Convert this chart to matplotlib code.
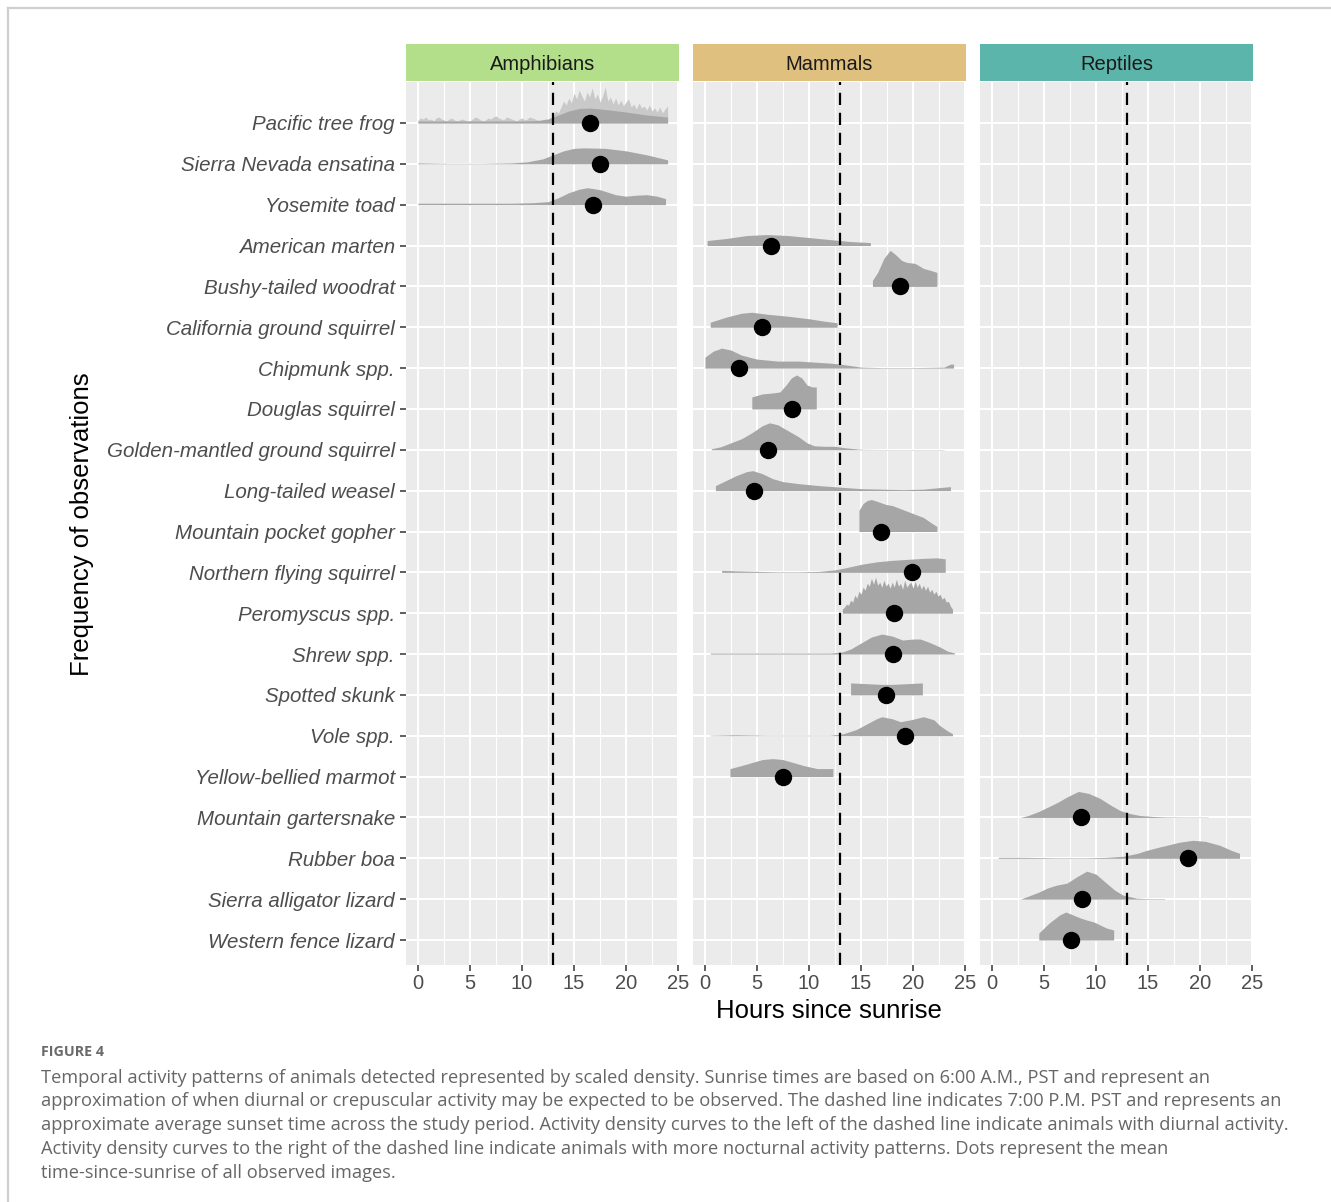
import numpy as np
import matplotlib
matplotlib.use("Agg")
import matplotlib.pyplot as plt
from matplotlib.lines import Line2D

# ---------------- data ----------------
groups = ["Amphibians", "Mammals", "Reptiles"]
group_colors = ["#b3df8a", "#dfc07f", "#5cb5aa"]

species = [
    "Pacific tree frog", "Sierra Nevada ensatina", "Yosemite toad",
    "American marten", "Bushy-tailed woodrat", "California ground squirrel",
    "Chipmunk spp.", "Douglas squirrel", "Golden-mantled ground squirrel",
    "Long-tailed weasel", "Mountain pocket gopher", "Northern flying squirrel",
    "Peromyscus spp.", "Shrew spp.", "Spotted skunk", "Vole spp.",
    "Yellow-bellied marmot", "Mountain gartersnake", "Rubber boa",
    "Sierra alligator lizard", "Western fence lizard",
]
species_group = [0, 0, 0] + [1] * 14 + [2] * 4

# mean hours since sunrise (dots)
mean_hours = [16.5, 17.5, 16.8, 6.3, 18.75, 5.5, 3.3, 8.4, 6.1, 4.7, 16.9,
              19.9, 18.2, 18.1, 17.4, 19.2, 7.5, 8.6, 18.8, 8.7, 7.6]

# scaled density profiles: hours and relative height
dens_hours = {
    "Pacific tree frog": [0, 2, 5, 8, 10, 11.5, 12.5, 13.5, 14.5, 15.5, 16.5, 18, 20, 22, 24],
    "Sierra Nevada ensatina": [0, 3, 6, 9, 10.5, 12, 13, 14, 15, 16, 18, 20, 22, 24],
    "Yosemite toad": [0, 3, 6, 9, 11, 12.5, 13.5, 14.5, 15.5, 16.3, 17.5, 19, 20, 21, 22, 23, 23.8],
    "American marten": [0.2, 2, 4, 6, 8, 10, 12, 14, 15.9],
    "Bushy-tailed woodrat": [16.1, 16.6, 17.2, 17.8, 18.3, 18.9, 19.4, 20.2, 21, 21.7, 22.3],
    "California ground squirrel": [0.5, 2, 3.5, 4.5, 6, 8, 10, 11.5, 12.7],
    "Chipmunk spp.": [0, 0.8, 1.6, 2.5, 3.5, 5, 7, 9, 10.5, 12, 13, 14, 15, 17, 20, 23, 23.6, 23.9],
    "Douglas squirrel": [4.5, 5.5, 6.5, 7.2, 7.8, 8.3, 8.8, 9.3, 9.8, 10.3, 10.7],
    "Golden-mantled ground squirrel": [0.6, 1.5, 2.5, 3.5, 4.5, 5.5, 6.2, 7, 8, 9, 9.8, 10.5, 11.5, 12.5, 13.5, 15, 17, 20, 23],
    "Long-tailed weasel": [1, 2, 3, 4, 4.6, 5.5, 6.5, 7.5, 9, 11, 13, 15, 17, 19, 21, 22.5, 23.6],
    "Mountain pocket gopher": [14.8, 15.2, 15.6, 16, 16.6, 17.4, 18, 19, 20, 21, 21.7, 22.3],
    "Northern flying squirrel": [1.6, 3, 5, 7, 9, 11, 12.5, 13.5, 15, 16.5, 18, 19.5, 21, 22.3, 23.1],
    "Shrew spp.": [0.5, 3, 6, 9, 12, 13.2, 14, 15, 16, 17, 18, 19, 20, 20.7, 21.5, 22.6, 23.3, 24],
    "Spotted skunk": [14, 15, 16, 17, 18, 19, 20, 20.9],
    "Vole spp.": [0.5, 3, 6, 9, 12, 13.3, 14.5, 15.6, 16.5, 17, 18, 18.8, 19.8, 21, 22, 22.6, 23.3, 23.8],
    "Yellow-bellied marmot": [2.4, 3.5, 4.5, 5.5, 6.5, 7.5, 8.5, 9.5, 10.8, 12.3],
    "Mountain gartersnake": [2.7, 3.5, 4.5, 5.3, 6.3, 7.3, 8.3, 9.3, 10.4, 11.3, 12.3, 13.2, 14.2, 15.5, 16.5, 18.5, 20.8],
    "Rubber boa": [0.6, 3, 6, 9, 11, 12.6, 14, 14.9, 16, 16.8, 18, 19.3, 20.5, 21.9, 23, 23.8],
    "Sierra alligator lizard": [2.7, 3.5, 4.5, 5.3, 6.2, 7.2, 8.1, 9.1, 10, 11, 11.8, 12.6, 13.9, 15, 16.6],
    "Western fence lizard": [4.5, 5.5, 6.5, 7.1, 7.8, 8.5, 9.1, 9.8, 10.4, 11, 11.7],
}
dens_height = {
    "Pacific tree frog": [2, 2, 2, 2, 2, 2.5, 4, 8, 12, 14.5, 15, 13.5, 11, 8, 6],
    "Sierra Nevada ensatina": [1, 0.5, 0.5, 1, 2, 5, 9, 13, 15.5, 16, 15.5, 13, 9, 4],
    "Yosemite toad": [1.5, 1.5, 1.5, 1.5, 2, 3, 7, 12, 15.5, 17, 15, 10, 8.5, 9.5, 10, 8.5, 6],
    "American marten": [5, 7, 10, 11, 10, 8, 6, 4, 3],
    "Bushy-tailed woodrat": [6, 14, 28, 36, 32, 26, 24, 23, 18, 16, 14],
    "California ground squirrel": [5, 10, 14, 15, 13, 11, 8.5, 6, 4.5],
    "Chipmunk spp.": [11, 17, 20, 18, 13, 9, 7, 7, 6, 5, 4, 2.5, 1, 0.5, 0.5, 1, 4, 4],
    "Douglas squirrel": [12, 15, 16, 17, 24, 31, 34, 31, 24, 22, 22],
    "Golden-mantled ground squirrel": [1, 3, 7, 11, 17, 24, 27, 25, 19, 13, 7, 4, 3.5, 3.5, 2, 0.5, 0.3, 0.3, 0.3],
    "Long-tailed weasel": [5, 10, 15, 19, 20, 17, 12, 9, 7, 5, 3.5, 2, 1.5, 1, 1.5, 3, 4],
    "Mountain pocket gopher": [21, 28, 31, 32, 30, 27, 26, 22, 18, 14, 9, 5],
    "Northern flying squirrel": [2, 1.5, 1, 0.5, 0.5, 1, 2.5, 4.5, 8, 10.5, 12, 13, 14, 14.5, 13.5],
    "Shrew spp.": [1, 1, 1, 1, 1, 2, 5, 11, 17, 20, 18, 14, 15, 15, 12, 7, 3, 1],
    "Spotted skunk": [12, 11.5, 11, 10.5, 10.5, 11, 11.5, 12],
    "Vole spp.": [0.5, 1, 0.5, 0.5, 0.5, 2, 6, 12, 17, 19, 17, 14, 16, 19, 16, 10, 5, 2],
    "Yellow-bellied marmot": [8, 11, 14, 17, 18, 17, 14, 11, 8, 8],
    "Mountain gartersnake": [0, 2, 6, 10, 15, 21, 26, 24, 19, 13, 7, 4, 2, 1, 0.5, 0.3, 0.3],
    "Rubber boa": [1, 1, 0.5, 0.5, 1, 2, 5, 8, 11, 13, 16, 18, 17, 13, 8, 5],
    "Sierra alligator lizard": [0, 3, 7, 11, 14, 16, 22, 28, 25, 16, 9, 4, 1, 0.5, 0.5],
    "Western fence lizard": [7, 17, 25, 28, 25, 22, 20, 18, 15, 12, 10],
}

# fine-grained (spiky) densities
frog_spike_start, frog_spike_end = 0.0, 24.0
frog_spikes = [3, 5, 4, 6, 3, 4, 2, 5, 6, 4, 3, 2, 4, 5, 3, 2, 3, 4, 3, 2, 2, 4, 6, 5, 3, 2,
               3, 5, 4, 6, 7, 5, 4, 3, 6, 5, 4, 3, 2, 4, 5, 3, 4, 6, 5, 4, 3, 2, 3, 4, 3,
               5, 8, 12, 10, 16, 22, 18, 25, 20, 30, 24, 33, 27, 22, 31, 26, 35, 24, 29, 21,
               27, 36, 22, 26, 19, 25, 18, 23, 17, 21, 24, 16, 19, 14, 20, 15, 17, 13, 18,
               12, 15, 11, 16, 10, 14, 17]
pero_spike_start, pero_spike_end = 13.2, 23.8
pero_spikes = [4, 6, 9, 8, 13, 11, 18, 15, 22, 19, 26, 23, 30, 27, 35, 29, 36, 28, 31, 26,
               33, 27, 30, 25, 31, 26, 34, 27, 30, 24, 33, 26, 29, 31, 25, 32, 26, 30, 24,
               28, 23, 27, 21, 24, 19, 22, 17, 19, 14, 16, 11, 12, 7, 4]

sunset_hour = 13
x_ticks = [0, 5, 10, 15, 20, 25]

# ---------------- layout ----------------
W, H = 1331, 1202
fig = plt.figure(figsize=(W / 100, H / 100), dpi=100)
plt.rcParams['font.family'] = ['Liberation Sans', 'DejaVu Sans']

def fx(p):
    return p / W

def fy(p):
    return 1 - p / H

ROW_PX = 40.85
panel_left = [406, 693, 980]
panel_w = 273
top_px, bot_px = 82, 965
n = len(species)
rows = {s: n - i for i, s in enumerate(species)}   # top species highest value
ymin = 1 - (bot_px - 940) / ROW_PX
ymax = 1 + (940 - top_px) / ROW_PX
xmin = -12 / 10.4
xmax = 261 / 10.4
ridge_col = "#a6a6a6"

# figure frame lines
fig.add_artist(Line2D([fx(8), 1], [fy(8), fy(8)], color="#cfcfcf", lw=1.6))
fig.add_artist(Line2D([fx(8), fx(8)], [fy(8), 0], color="#cfcfcf", lw=1.6))

for g, (gname, gcol) in enumerate(zip(groups, group_colors)):
    ax = fig.add_axes([fx(panel_left[g]), fy(bot_px), panel_w / W, (bot_px - top_px) / H])
    ax.set_facecolor("#ebebeb")
    ax.set_xlim(xmin, xmax)
    ax.set_ylim(ymin, ymax)
    for sp in ax.spines.values():
        sp.set_visible(False)
    # grid
    for xv in np.arange(0, 25.1, 2.5):
        major = (xv % 5 == 0)
        ax.axvline(xv, color="white", lw=1.5 if major else 0.8, zorder=0)
    for s in species:
        ax.axhline(rows[s], color="white", lw=1.5, zorder=0)

    # ridges
    for i, s in enumerate(species):
        if species_group[i] != g:
            continue
        base = rows[s]
        if s == "Pacific tree frog":
            xs = np.linspace(frog_spike_start, frog_spike_end, len(frog_spikes))
            hs = np.array(frog_spikes) / ROW_PX
            ax.fill_between(xs, base, base + hs, color="#c9c9c9", lw=0, zorder=2 + i * 0.01)
        if s == "Peromyscus spp.":
            xs = np.linspace(pero_spike_start, pero_spike_end, len(pero_spikes))
            hs = np.array(pero_spikes) / ROW_PX
            ax.fill_between(xs, base, base + hs, color=ridge_col, lw=0, zorder=2 + i * 0.01)
        else:
            xs = np.array(dens_hours[s])
            hs = np.array(dens_height[s]) / ROW_PX
            ax.fill_between(xs, base, base + hs, color=ridge_col, lw=0, zorder=2.005 + i * 0.01)
        ax.plot([mean_hours[i]], [base], "o", color="black", ms=11.5, mec="black", zorder=5)

    ax.axvline(sunset_hour, color="black", lw=1.6, ls=(0, (5.5, 3.5)), zorder=4)

    ax.set_xticks(x_ticks)
    ax.set_xticklabels([str(t) for t in x_ticks])
    ax.tick_params(axis="x", length=4, width=1.1, color="#333333", labelcolor="#4d4d4d",
                   labelsize=14.5, pad=2.5)
    if g == 0:
        ax.set_yticks([rows[s] for s in species])
        ax.set_yticklabels(species, fontstyle="italic")
        ax.tick_params(axis="y", length=4, width=1.1, color="#333333", labelcolor="#4d4d4d",
                       labelsize=14.8, pad=4)
    else:
        ax.set_yticks([rows[s] for s in species])
        ax.tick_params(axis="y", length=0, labelleft=False)

    # strip
    sax = fig.add_axes([fx(panel_left[g]), fy(81), panel_w / W, 37 / H])
    sax.set_facecolor(gcol)
    sax.set_xticks([])
    sax.set_yticks([])
    for sp in sax.spines.values():
        sp.set_visible(False)
    sax.text(0.5, 0.45, gname, ha="center", va="center", fontsize=14.5, color="#1a1a1a",
             transform=sax.transAxes)

fig.text(fx(829), fy(1011), "Hours since sunrise", ha="center", va="center", fontsize=18.5,
         color="black")
fig.text(fx(82), fy(524), "Frequency of observations", ha="center", va="center",
         rotation=90, fontsize=18.5, color="black")

# caption
cap_font = ['Open Sans', 'DejaVu Sans']
fig.text(fx(41), fy(1052), "FIGURE 4", ha="left", va="center", fontsize=10.3,
         color="#6a6a6a", family=cap_font, fontweight="bold")
caption = [
    "Temporal activity patterns of animals detected represented by scaled density. Sunrise times are based on 6:00 A.M., PST and represent an",
    "approximation of when diurnal or crepuscular activity may be expected to be observed. The dashed line indicates 7:00 P.M. PST and represents an",
    "approximate average sunset time across the study period. Activity density curves to the left of the dashed line indicate animals with diurnal activity.",
    "Activity density curves to the right of the dashed line indicate animals with more nocturnal activity patterns. Dots represent the mean",
    "time-since-sunrise of all observed images.",
]
cap_y = [1078, 1101.5, 1125, 1149, 1172.5]
for line, yy in zip(caption, cap_y):
    fig.text(fx(41), fy(yy), line, ha="left", va="center", fontsize=13.15, color="#666666",
             family=cap_font)

fig.savefig("out.png", dpi=100)
